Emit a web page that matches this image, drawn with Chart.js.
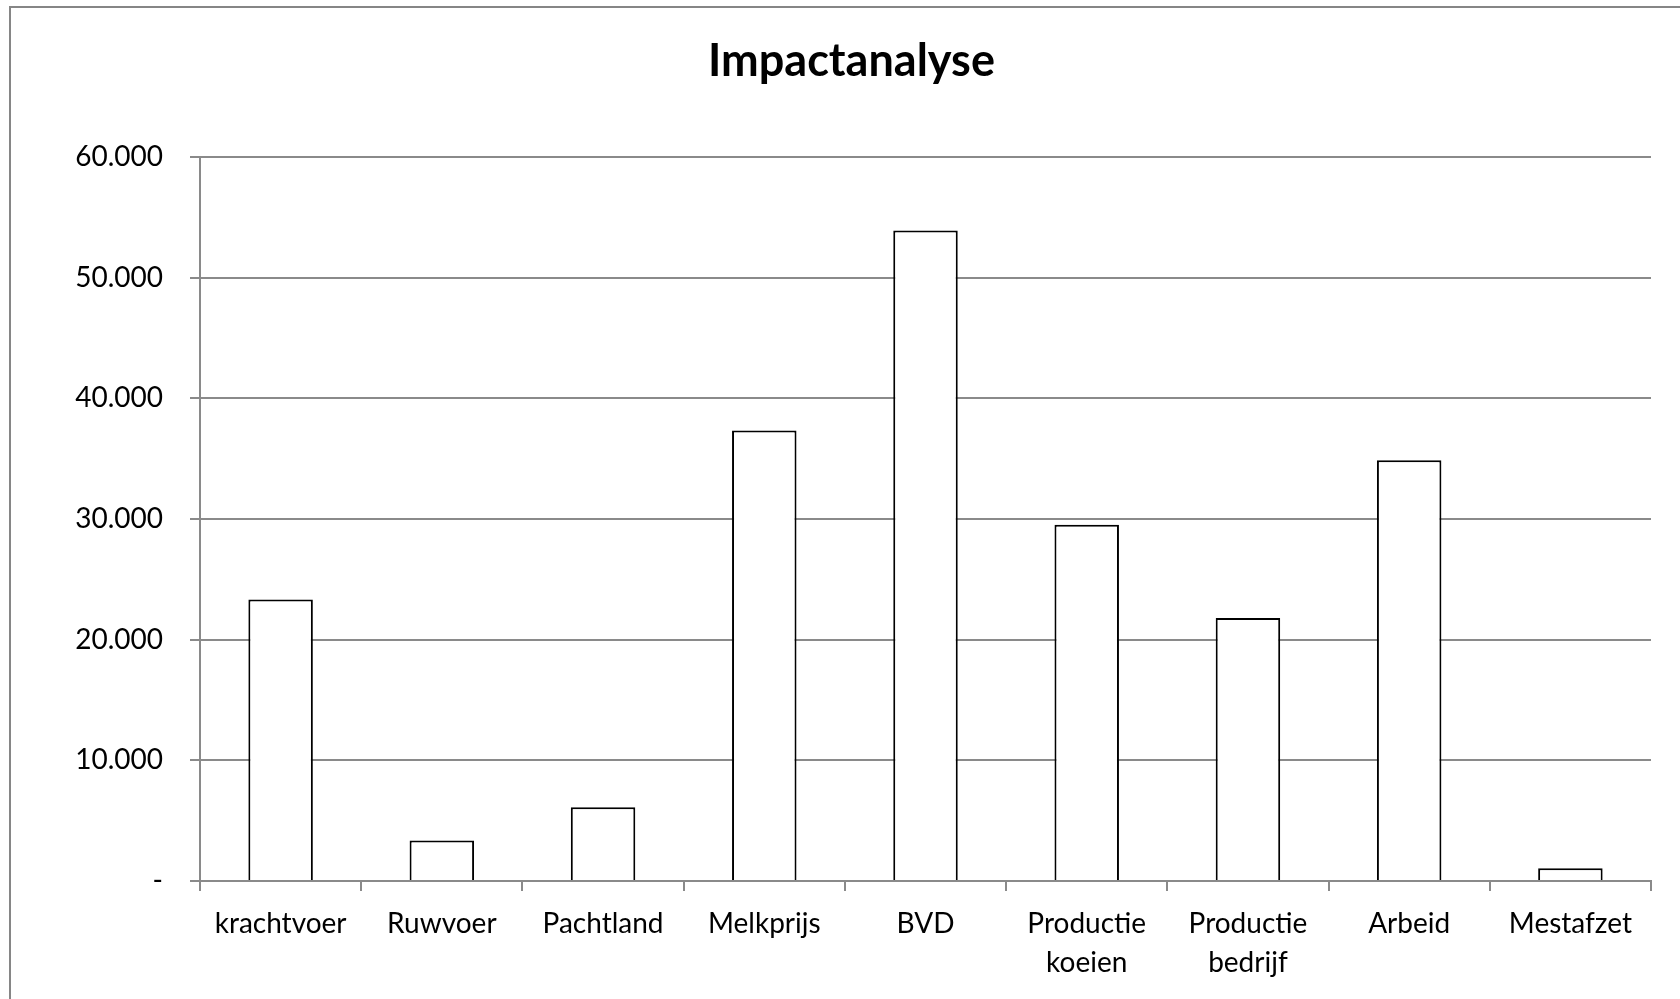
<!DOCTYPE html>
<html>
<head>
<meta charset="utf-8">
<script src="https://cdn.jsdelivr.net/npm/chart.js@4"></script>
<style>
  html, body { margin: 0; padding: 0; background: #fff; overflow: hidden; }
  #wrap { position: relative; width: 1680px; height: 999px; }
  #frame { position: absolute; left: 9px; top: 6px; width: 1700px; height: 1100px;
           border: 2px solid #868686; box-sizing: border-box; pointer-events: none; }
</style>
</head>
<body>
<div id="wrap">
  <canvas id="myChart"></canvas>
  <div id="frame"></div>
</div>
<script>
const TITLE = 'Impactanalyse';
const categories = ['krachtvoer', 'Ruwvoer', 'Pachtland', 'Melkprijs', 'BVD',
  ['Productie', 'koeien'], ['Productie', 'bedrijf'], 'Arbeid', 'Mestafzet'];
const impact = [23320, 3350, 6110, 37340, 53910, 29530, 21790, 34860, 1050];
const yMin = 0;
const yMax = 60000;
const yStep = 10000;

const GRID = '#8a8a8a';
const FONT = 'Lato, "Open Sans", sans-serif';

function formatTick(value) {
  if (value === 0) return '-';
  return String(value).replace(/\B(?=(\d{3})+(?!\d))/g, '.');
}

const ctx = document.getElementById('myChart').getContext('2d');
const myChart = new Chart(ctx, {
  type: 'bar',
  data: {
    labels: categories,
    datasets: [{
      label: TITLE,
      data: impact,
      backgroundColor: '#ffffff',
      borderColor: '#000000',
      borderWidth: 2,
      categoryPercentage: 1,
      barPercentage: 0.4
    }]
  },
  options: {
    responsive: true,
    maintainAspectRatio: false,
    animation: false,
    // left padding only shifts the title centre; y axis width makes up for it
    layout: { padding: { top: 0, right: 29, bottom: 0, left: 52 } },
    plugins: {
      legend: { display: false },
      tooltip: { enabled: false },
      title: {
        display: true,
        text: TITLE,
        color: '#000',
        font: { family: FONT, size: 45, weight: 'bold', lineHeight: 1.2 },
        padding: { top: 34, bottom: 69 }
      }
    },
    scales: {
      x: {
        grid: {
          offset: true,
          drawOnChartArea: false,
          drawTicks: true,
          tickLength: 10,
          color: GRID,
          lineWidth: 2
        },
        border: { display: true, color: GRID, width: 2 },
        ticks: {
          color: '#000',
          maxRotation: 0,
          autoSkip: false,
          padding: 13,
          font: { family: FONT, size: 28, lineHeight: 1.4 }
        },
        afterFit: (scale) => { scale.height = 118; }
      },
      y: {
        min: yMin,
        max: yMax,
        grid: {
          color: GRID,
          lineWidth: 2,
          drawTicks: true,
          tickLength: 10
        },
        border: { display: true, color: GRID, width: 2 },
        ticks: {
          stepSize: yStep,
          color: '#000',
          padding: 27,
          font: { family: FONT, size: 28 },
          callback: formatTick
        },
        afterFit: (scale) => { scale.width = 148; }
      }
    }
  }
});
</script>
</body>
</html>
